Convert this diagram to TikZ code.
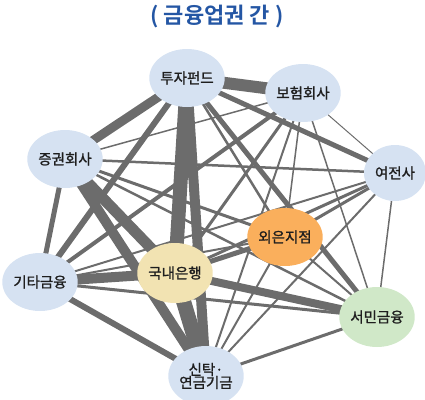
\documentclass[tikz,border=0pt]{standalone}
\usepackage{fontspec}
\newfontfamily\kr{Noto Sans CJK KR}[FakeBold=1.2]
\newfontfamily\krb{Noto Sans CJK KR Bold}
\usetikzlibrary{shapes.geometric,backgrounds}
\definecolor{edgegray}{HTML}{6C6C6C}
\definecolor{nblue}{HTML}{D6E2F2}
\definecolor{norange}{HTML}{FAAF5C}
\definecolor{nbeige}{HTML}{F2E3B2}
\definecolor{ngreen}{HTML}{D0E8C8}
\definecolor{titleblue}{HTML}{2456A4}
\definecolor{ntext}{HTML}{1E1E1E}
\tikzset{
  sector/.style={ellipse, inner sep=0pt, minimum width=66pt, minimum height=58pt,
    font=\kr\fontsize{14.5}{16}\selectfont, text=ntext, align=center},
  link/.style={draw=edgegray}
}
\begin{document}
\begin{tikzpicture}[x=1pt,y=-1pt]
\useasboundingbox (0,0) rectangle (425,399);
\node[font=\krb\fontsize{22}{24}\selectfont, text=titleblue] (title) at (217,17) {( 금융업권 간 )};
\node[sector, fill=nblue] (A) at (187,78) {투자펀드};
\node[sector, fill=nblue] (B) at (303,93) {보험회사};
\node[sector, fill=nblue] (C) at (65,159) {증권회사};
\node[sector, fill=nblue, minimum width=62pt, minimum height=56pt] (D) at (395,173) {여전사};
\node[sector, fill=norange] (E) at (285,237) {외은지점};
\node[sector, fill=nbeige, minimum width=64pt, minimum height=60pt] (F) at (175,273) {국내은행};
\node[sector, fill=nblue] (G) at (40,282) {기타금융};
\node[sector, fill=ngreen, minimum height=60pt] (H) at (377,317) {서민금융};
\node[sector, fill=nblue, minimum width=64pt, minimum height=60pt] (I) at (206,376) {신탁·\\[-3pt]연금기금};
\begin{pgfonlayer}{background}
\foreach \a/\b/\w in {
  A/B/12, A/C/9, A/F/14, A/I/10, A/G/6, A/H/5, A/D/5, A/E/2.5,
  B/C/1.5, B/D/1, B/E/1.5, B/F/3, B/G/4, B/H/1.5, B/I/2,
  C/D/2.5, C/E/3, C/F/11, C/G/5, C/H/2.5, C/I/10,
  D/E/3, D/F/3, D/G/2, D/H/1.5, D/I/2,
  E/F/5, E/G/2, E/H/2, E/I/2,
  F/G/10, F/H/8, F/I/15,
  G/H/3, G/I/6, H/I/3}
  \draw[link, line width=\w pt] (\a.center) -- (\b.center);
\end{pgfonlayer}
\end{tikzpicture}
\end{document}
